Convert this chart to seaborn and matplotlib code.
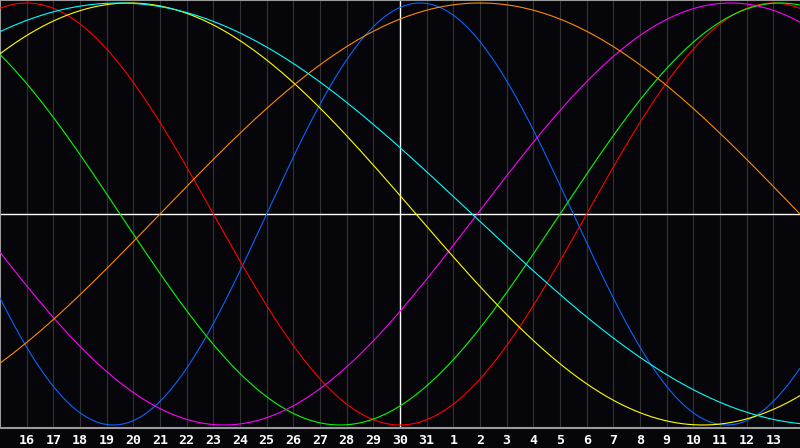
import numpy as np
import pandas as pd
import matplotlib
matplotlib.use("Agg")
import matplotlib.pyplot as plt
import seaborn as sns

# Biorhythm cycles (period in days, day of rising zero crossing relative to today)
cycles = ["physical", "emotional", "intellectual", "intuitive", "aesthetic", "awareness", "spiritual"]
periods = [23, 28, 33, 38, 43, 48, 53]
rise_day = [-5.0, 7.0, 6.0, 2.9, -20.9, -9.0, -23.8]
colors = ["#0a64ff", "#ff0000", "#00ff00", "#ff00ff", "#ffff00", "#ff8a00", "#00ffff"]

# Day labels under the chart, today (30) in the middle
day_labels = [str(d) for d in range(16, 32)] + [str(d) for d in range(1, 14)]
day_offsets = list(range(-14, 15))

t = np.linspace(-15, 15, 1201)
rows = []
for name, p, r in zip(cycles, periods, rise_day):
    vals = np.sin(2 * np.pi * (t - r) / p)
    rows.append(pd.DataFrame({"t": t, "value": vals, "cycle": name}))
df = pd.concat(rows, ignore_index=True)

sns.set_style("dark")
bg = "#060509"
fig = plt.figure(figsize=(8, 4.48), dpi=100, facecolor=bg)
ax = fig.add_axes([0, 20 / 448, 1, 428 / 448])
ax.set_facecolor(bg)

# day grid
for d in day_offsets:
    if d != 0:
        ax.axvline(d, color="#333333", lw=0.8, zorder=1)

sns.lineplot(data=df, x="t", y="value", hue="cycle", palette=dict(zip(cycles, colors)),
             legend=False, lw=0.8, ax=ax, zorder=3)

ax.axhline(0, color="white", lw=1.0, zorder=2)
ax.axvline(0, color="white", lw=1.0, zorder=2)

ax.set_xlim(-15, 15)
ax.set_ylim(-214 / 211, 214 / 211)
ax.set_xticks(day_offsets)
ax.set_xticklabels(day_labels, color="white", fontsize=9.5, fontweight="bold",
                   family="DejaVu Sans Mono")
ax.set_yticks([])
ax.tick_params(axis="x", length=0, pad=4)
ax.set_xlabel("")
ax.set_ylabel("")
ax.grid(False)

for s in ["left", "top", "bottom"]:
    ax.spines[s].set_visible(True)
    ax.spines[s].set_color("#9a9a9a")
    ax.spines[s].set_linewidth(1.5)
ax.spines["right"].set_visible(False)

fig.savefig("out.png", dpi=100, facecolor=bg)
